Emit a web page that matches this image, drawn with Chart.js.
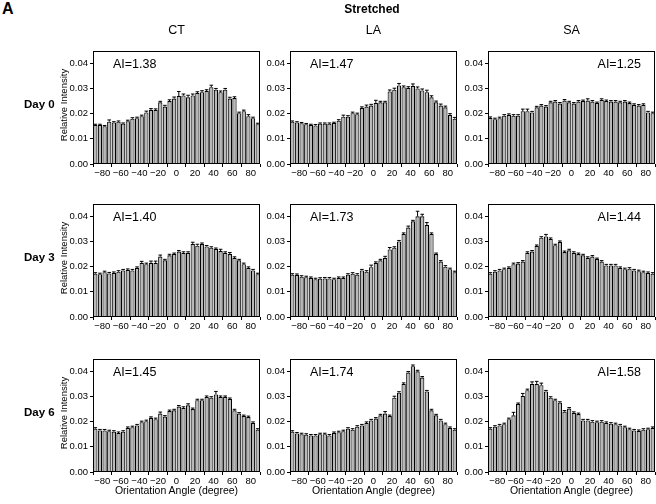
<!DOCTYPE html>
<html>
<head>
<meta charset="utf-8">
<script src="https://cdn.jsdelivr.net/npm/chart.js@4.4.1/dist/chart.umd.min.js"></script>
<style>
  body { margin: 0; background: #fff; }
  #fig { position: relative; width: 656px; height: 504px; background: #fff; font-family: "Liberation Sans", Arial, sans-serif; color: #000; overflow: hidden; }
  #fig canvas { position: absolute; }
  .t { position: absolute; white-space: nowrap; line-height: 1; }
  .b { font-weight: bold; }
  .ylab { position: absolute; font-size: 9.5px; transform: translate(-50%, -50%) rotate(-90deg); white-space: nowrap; }
</style>
</head>
<body>
<div id="fig"></div>
<script>
// bin centres (degree) and axis ticks
const angles = [-87.5,-82.5,-77.5,-72.5,-67.5,-62.5,-57.5,-52.5,-47.5,-42.5,-37.5,-32.5,-27.5,-22.5,-17.5,-12.5,-7.5,-2.5,
                2.5,7.5,12.5,17.5,22.5,27.5,32.5,37.5,42.5,47.5,52.5,57.5,62.5,67.5,72.5,77.5,82.5,87.5];
const xTicks = [-80,-60,-40,-20,0,20,40,60,80];
const yTicks = [0,0.01,0.02,0.03,0.04];
const columns = ["CT","LA","SA"];
const days = ["Day 0","Day 3","Day 6"];

// relative intensity per bin
const ctDay0 = [0.0155,0.0155,0.0150,0.0168,0.0165,0.0168,0.0160,0.0170,0.0180,0.0182,0.0190,0.0205,0.0215,0.0215,0.0245,0.0228,0.0250,0.0260,0.0270,0.0272,0.0265,0.0272,0.0282,0.0285,0.0290,0.0305,0.0295,0.0285,0.0295,0.0260,0.0262,0.0202,0.0210,0.0190,0.0182,0.0158];
const laDay0 = [0.0168,0.0165,0.0162,0.0158,0.0155,0.0153,0.0160,0.0160,0.0160,0.0163,0.0172,0.0188,0.0188,0.0202,0.0198,0.0222,0.0228,0.0232,0.0243,0.0245,0.0245,0.0288,0.0295,0.0312,0.0305,0.0302,0.0310,0.0300,0.0292,0.0285,0.0265,0.0245,0.0232,0.0225,0.0195,0.0180];
const saDay0 = [0.0183,0.0178,0.0182,0.0192,0.0195,0.0192,0.0192,0.0210,0.0210,0.0205,0.0225,0.0232,0.0228,0.0245,0.0248,0.0240,0.0252,0.0245,0.0240,0.0248,0.0250,0.0252,0.0248,0.0242,0.0255,0.0250,0.0248,0.0248,0.0245,0.0248,0.0242,0.0235,0.0232,0.0235,0.0205,0.0202];
const ctDay3 = [0.0172,0.0170,0.0178,0.0173,0.0175,0.0180,0.0185,0.0187,0.0185,0.0195,0.0215,0.0210,0.0215,0.0215,0.0240,0.0225,0.0245,0.0250,0.0260,0.0255,0.0255,0.0290,0.0283,0.0290,0.0280,0.0275,0.0270,0.0262,0.0255,0.0250,0.0235,0.0225,0.0210,0.0195,0.0185,0.0170];
const laDay3 = [0.0168,0.0167,0.0160,0.0158,0.0155,0.0150,0.0152,0.0153,0.0153,0.0150,0.0155,0.0155,0.0168,0.0172,0.0168,0.0185,0.0180,0.0198,0.0215,0.0225,0.0235,0.0268,0.0275,0.0300,0.0330,0.0355,0.0380,0.0400,0.0400,0.0365,0.0330,0.0250,0.0220,0.0200,0.0190,0.0178];
const saDay3 = [0.0172,0.0180,0.0185,0.0190,0.0195,0.0210,0.0212,0.0220,0.0255,0.0260,0.0282,0.0315,0.0320,0.0310,0.0285,0.0298,0.0258,0.0265,0.0255,0.0250,0.0245,0.0235,0.0240,0.0230,0.0220,0.0205,0.0205,0.0205,0.0195,0.0190,0.0192,0.0185,0.0182,0.0178,0.0175,0.0172];
const ctDay6 = [0.0172,0.0165,0.0165,0.0162,0.0160,0.0155,0.0160,0.0175,0.0178,0.0185,0.0198,0.0202,0.0215,0.0210,0.0232,0.0220,0.0242,0.0245,0.0260,0.0255,0.0265,0.0250,0.0285,0.0285,0.0298,0.0295,0.0308,0.0298,0.0298,0.0290,0.0245,0.0232,0.0222,0.0218,0.0195,0.0168];
const laDay6 = [0.0160,0.0153,0.0150,0.0148,0.0145,0.0145,0.0150,0.0150,0.0145,0.0155,0.0158,0.0162,0.0172,0.0168,0.0180,0.0185,0.0195,0.0205,0.0212,0.0225,0.0232,0.0222,0.0295,0.0315,0.0350,0.0395,0.0420,0.0400,0.0375,0.0320,0.0245,0.0225,0.0205,0.0190,0.0175,0.0168];
const saDay6 = [0.0172,0.0180,0.0185,0.0190,0.0210,0.0225,0.0270,0.0302,0.0325,0.0350,0.0350,0.0345,0.0320,0.0295,0.0285,0.0275,0.0240,0.0252,0.0235,0.0230,0.0205,0.0205,0.0200,0.0198,0.0200,0.0195,0.0192,0.0190,0.0185,0.0178,0.0170,0.0165,0.0163,0.0168,0.0170,0.0175];

// upper error bars
const ctDay0Err = [.0003,.0003,.0003,.0007,.0003,.0003,.0003,.0004,.0004,.0004,.0004,.0005,.0005,.0004,.0004,.0005,.0005,.0006,.0018,.0006,.0008,.0006,.0005,.0006,.0005,.0008,.0005,.0005,.0005,.0005,.0005,.0004,.0004,.0006,.0004,.0004];
const laDay0Err = [.0003,.0003,.0003,.0003,.0003,.0004,.0003,.0003,.0003,.0003,.0004,.0006,.0004,.0004,.0004,.0005,.0006,.0005,.0010,.0004,.0004,.0006,.0006,.0008,.0005,.0005,.0008,.0006,.0006,.0008,.0006,.0005,.0006,.0005,.0005,.0005];
const saDay0Err = [.0004,.0004,.0004,.0004,.0004,.0004,.0004,.0008,.0008,.0004,.0004,.0004,.0004,.0004,.0004,.0004,.0004,.0004,.0004,.0004,.0004,.0007,.0004,.0004,.0004,.0004,.0004,.0004,.0004,.0004,.0004,.0004,.0004,.0004,.0004,.0004];
const ctDay3Err = [.0004,.0004,.0004,.0004,.0004,.0004,.0004,.0004,.0004,.0004,.0006,.0004,.0007,.0007,.0006,.0004,.0004,.0004,.0004,.0004,.0004,.0007,.0006,.0004,.0004,.0004,.0004,.0007,.0004,.0006,.0004,.0004,.0004,.0004,.0004,.0004];
const laDay3Err = [.0004,.0004,.0004,.0004,.0004,.0004,.0004,.0004,.0004,.0004,.0004,.0004,.0004,.0004,.0004,.0004,.0004,.0008,.0004,.0004,.0006,.0008,.0004,.0004,.0004,.0006,.0004,.0020,.0008,.0010,.0004,.0004,.0004,.0004,.0004,.0004];
const saDay3Err = [.0004,.0004,.0004,.0004,.0004,.0004,.0004,.0004,.0004,.0004,.0004,.0004,.0008,.0004,.0004,.0004,.0004,.0004,.0004,.0004,.0004,.0004,.0004,.0004,.0004,.0004,.0004,.0004,.0004,.0004,.0004,.0004,.0004,.0004,.0004,.0004];
const ctDay6Err = [.0004,.0004,.0004,.0004,.0004,.0004,.0004,.0004,.0004,.0004,.0004,.0004,.0004,.0004,.0006,.0004,.0004,.0004,.0004,.0004,.0006,.0004,.0004,.0004,.0004,.0004,.0012,.0004,.0004,.0004,.0004,.0004,.0004,.0004,.0004,.0004];
const laDay6Err = [.0004,.0004,.0004,.0004,.0004,.0004,.0004,.0004,.0004,.0004,.0004,.0004,.0004,.0004,.0004,.0004,.0004,.0004,.0004,.0004,.0008,.0004,.0006,.0004,.0004,.0004,.0005,.0004,.0004,.0004,.0004,.0004,.0004,.0004,.0004,.0004];
const saDay6Err = [.0004,.0004,.0004,.0004,.0004,.0012,.0004,.0010,.0004,.0008,.0010,.0008,.0004,.0004,.0004,.0004,.0004,.0004,.0004,.0004,.0004,.0004,.0004,.0004,.0004,.0004,.0004,.0004,.0004,.0004,.0004,.0004,.0004,.0004,.0004,.0004];

const aiValues = [["AI=1.38","AI=1.47","AI=1.25"],["AI=1.40","AI=1.73","AI=1.44"],["AI=1.45","AI=1.74","AI=1.58"]];

const panels = [
  [ [ctDay0, ctDay0Err], [laDay0, laDay0Err], [saDay0, saDay0Err] ],
  [ [ctDay3, ctDay3Err], [laDay3, laDay3Err], [saDay3, saDay3Err] ],
  [ [ctDay6, ctDay6Err], [laDay6, laDay6Err], [saDay6, saDay6Err] ]
];

// layout in page pixels
const colLeft = [93, 290, 488];
const rowTop = [46, 199, 354];
const plotW = 167, plotH = 118;
const yAxisW = 36, xAxisH = 16, padTop = 3, padRight = 4;

const fig = document.getElementById("fig");

function addText(txt, x, y, css, cls) {
  const d = document.createElement("div");
  d.className = "t " + (cls || "");
  d.textContent = txt;
  d.style.cssText += css;
  d.style.left = x + "px";
  d.style.top = y + "px";
  fig.appendChild(d);
  return d;
}

const framePlugin = {
  id: "frame",
  afterDraw(chart) {
    const a = chart.chartArea, ctx = chart.ctx;
    ctx.save();
    ctx.strokeStyle = "#000";
    ctx.lineWidth = 1;
    ctx.strokeRect(Math.round(a.left) + 0.5, Math.round(a.top) + 0.5, Math.round(a.right - a.left) - 1, Math.round(a.bottom - a.top) - 1);
    ctx.restore();
  }
};

const errPlugin = {
  id: "errbars",
  afterDatasetsDraw(chart, args, opts) {
    const meta = chart.getDatasetMeta(0);
    const ys = chart.scales.y, ctx = chart.ctx;
    const vals = chart.data.datasets[0].data;
    ctx.save();
    ctx.strokeStyle = "#000";
    ctx.lineWidth = 1;
    meta.data.forEach((bar, i) => {
      const top = ys.getPixelForValue(vals[i].y + opts.errors[i]);
      ctx.beginPath();
      ctx.moveTo(bar.x, bar.y);
      ctx.lineTo(bar.x, top);
      ctx.moveTo(bar.x - 1.8, top);
      ctx.lineTo(bar.x + 1.8, top);
      ctx.stroke();
    });
    ctx.restore();
  }
};

function drawPanel(r, c) {
  const values = panels[r][c][0], errors = panels[r][c][1];
  const cv = document.createElement("canvas");
  const w = plotW + yAxisW + padRight, h = plotH + padTop + xAxisH;
  cv.width = w; cv.height = h;
  cv.style.left = (colLeft[c] - yAxisW) + "px";
  cv.style.top = (rowTop[r] - padTop) + "px";
  cv.style.width = w + "px"; cv.style.height = h + "px";
  fig.appendChild(cv);

  new Chart(cv.getContext("2d"), {
    type: "bar",
    data: {
      datasets: [{
        data: angles.map((a, i) => ({ x: a, y: values[i] })),
        backgroundColor: "#b8b8b8",
        borderColor: "#000",
        borderWidth: 1.1,
        barPercentage: 0.92,
        categoryPercentage: 1
      }]
    },
    options: {
      responsive: false,
      animation: false,
      devicePixelRatio: 1,
      layout: { padding: { top: padTop, right: padRight, left: 0, bottom: 0 } },
      plugins: { legend: { display: false }, tooltip: { enabled: false }, errbars: { errors: errors } },
      scales: {
        x: {
          type: "linear", min: -90, max: 90, offset: false,
          afterBuildTicks: s => { s.ticks = xTicks.map(v => ({ value: v })); },
          afterFit: s => { s.height = xAxisH; },
          grid: { display: true, drawOnChartArea: false, drawTicks: true, tickLength: 3, color: "#000" },
          border: { display: false },
          ticks: {
            padding: 1, color: "#000", maxRotation: 0, autoSkip: false,
            font: { family: "Liberation Sans", size: 9.5 },
            callback: v => v < 0 ? "\u2212" + Math.abs(v) : String(v)
          }
        },
        y: {
          min: 0, max: 0.045,
          afterBuildTicks: s => { s.ticks = yTicks.map(v => ({ value: v })); },
          afterFit: s => { s.width = yAxisW; },
          grid: { display: true, drawOnChartArea: false, drawTicks: true, tickLength: 3, color: "#000" },
          border: { display: false },
          ticks: {
            padding: 2, color: "#000",
            font: { family: "Liberation Sans", size: 9.5 },
            callback: v => Number(v).toFixed(2)
          }
        }
      }
    },
    plugins: [framePlugin, errPlugin]
  });

  // AI label
  const ai = addText(aiValues[r][c], 0, rowTop[r] + 12, "font-size:12.5px;");
  if (c === 2) {
    ai.style.left = "auto";
    ai.style.right = (656 - (colLeft[c] + plotW) + 14) + "px";
  } else {
    ai.style.left = (colLeft[c] + 20) + "px";
  }
}

for (let r = 0; r < 3; r++) {
  for (let c = 0; c < 3; c++) drawPanel(r, c);
}

// titles and labels
addText("A", 2, 1, "font-size:16px;", "b");
addText("Stretched", 372, 3, "font-size:12px;transform:translateX(-50%);", "b");
columns.forEach((name, c) => {
  addText(name, colLeft[c] + plotW / 2, 24, "font-size:12.5px;transform:translateX(-50%);");
});
days.forEach((d, r) => {
  addText(d, 24, rowTop[r] + plotH / 2, "font-size:11.5px;transform:translateY(-50%);", "b");
  const yl = document.createElement("div");
  yl.className = "ylab";
  yl.textContent = "Relative Intensity";
  yl.style.left = "63px";
  yl.style.top = (rowTop[r] + plotH / 2) + "px";
  fig.appendChild(yl);
});
columns.forEach((name, c) => {
  addText("Orientation Angle (degree)", colLeft[c] + plotW / 2, 485, "font-size:10.5px;transform:translateX(-50%);");
});
</script>
</body>
</html>
